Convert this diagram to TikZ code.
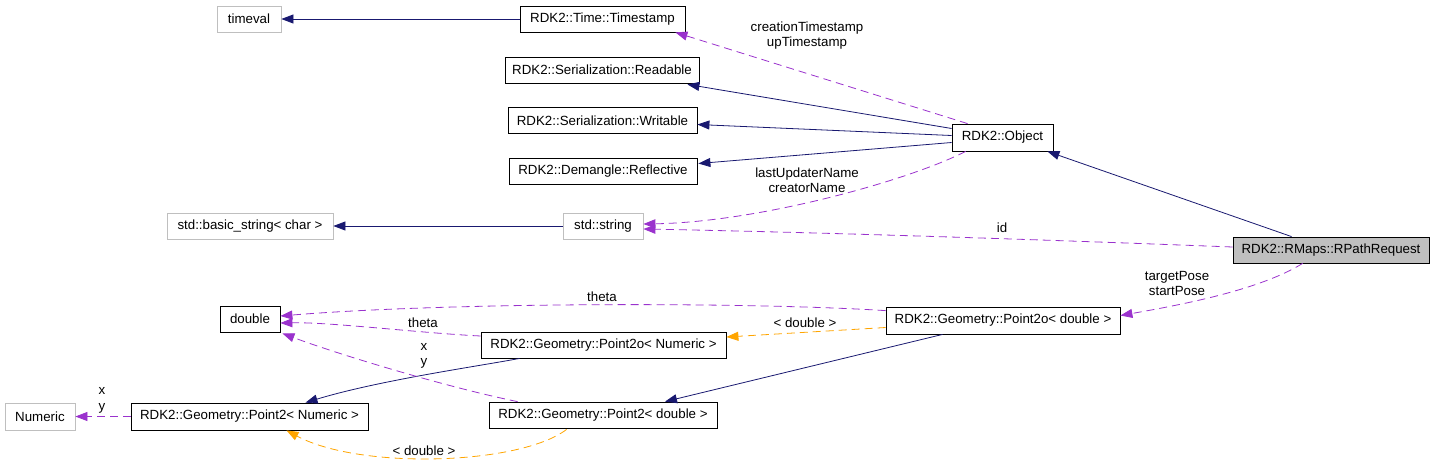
\documentclass[tikz,border=0pt]{standalone}
\usepackage{fontspec}
\setmainfont{Liberation Sans}
\usetikzlibrary{arrows.meta,calc}
\definecolor{navy}{HTML}{191970}
\definecolor{orchid}{HTML}{9A32CD}
\definecolor{orng}{HTML}{FFA500}
\definecolor{graybd}{HTML}{BFBFBF}
\begin{document}
\begin{tikzpicture}[x=1pt,y=-1pt,
  every node/.style={font=\fontsize{13.3}{15.5}\selectfont, inner sep=0pt, text=black},
  cls/.style={draw=black, line width=0.8pt, minimum height=26pt},
  ext/.style={draw=graybd, line width=0.8pt, minimum height=26pt},
  cur/.style={draw=black, fill=graybd, line width=0.8pt, minimum height=26pt},
  inh/.style={draw=navy, line width=0.8pt, -{Triangle[length=12pt,width=9pt]}},
  use/.style={draw=orchid, line width=0.8pt, dash pattern=on 8pt off 5pt, -{Triangle[length=12pt,width=9pt]}},
  tpl/.style={draw=orng, line width=0.8pt, dash pattern=on 8pt off 5pt, -{Triangle[length=12pt,width=9pt]}},
  lbl/.style={align=center},
]
\useasboundingbox (0,0) rectangle (1435,475);

% nodes
\node[ext, minimum width=64pt]  (timeval)    at (249,19)     {timeval};
\node[cls, minimum width=165pt] (ts)         at (602.5,19)   {RDK2::Time::Timestamp};
\node[cls, minimum width=194pt] (readable)   at (602,70)     {RDK2::Serialization::Readable};
\node[cls, minimum width=189pt] (writable)   at (602.5,120.5){RDK2::Serialization::Writable};
\node[cls, minimum width=188pt] (reflective) at (603,171.5)  {RDK2::Demangle::Reflective};
\node[cls, minimum width=101pt, minimum height=27pt] (object) at (1002.5,137.5) {RDK2::Object};
\node[ext, minimum width=166pt] (basicstr)   at (250,226)    {std::basic\_string< char >};
\node[ext, minimum width=80pt]  (stdstr)     at (603,226)    {std::string};
\node[cur, minimum width=196pt] (rpath)      at (1331,250)   {RDK2::RMaps::RPathRequest};
\node[cls, minimum width=60pt]  (double)     at (250,319)    {double};
\node[cls, minimum width=234pt, minimum height=27pt] (p2od) at (1003,320.5) {RDK2::Geometry::Point2o< double >};
\node[cls, minimum width=245pt] (p2on)       at (603.5,345)  {RDK2::Geometry::Point2o< Numeric >};
\node[ext, minimum width=70pt, minimum height=27pt] (numeric) at (40,416.5) {Numeric};
\node[cls, minimum width=237pt, minimum height=27pt] (p2n) at (249.5,416.5) {RDK2::Geometry::Point2< Numeric >};
\node[cls, minimum width=228pt] (p2d)        at (603,415)    {RDK2::Geometry::Point2< double >};

% edges
\draw[inh] (ts.west) -- (timeval.east);
\draw[inh] (stdstr.west) -- (basicstr.east);
\draw[use] ($(object.north west)+(16,0)$) -- ($(ts.south east)+(-10,0)$);
\draw[inh] ($(object.west)+(0,-9)$) -- ($(readable.south east)+(-12,1)$);
\draw[inh] ($(object.west)+(0,-2)$) -- ($(writable.east)+(0,4)$);
\draw[inh] ($(object.west)+(0,5)$) -- ($(reflective.east)+(1,-8)$);
\draw[use] ($(object.south west)+(14,0)$) .. controls (910,180) and (760,222) .. ($(stdstr.east)+(0,-2)$);
\draw[use] ($(rpath.west)+(0,-3)$) .. controls (1000,238) and (800,232) .. ($(stdstr.east)+(0,3)$);
\draw[inh] ($(rpath.north west)+(59,0)$) -- ($(object.south east)+(-6,0)$);
\draw[use] ($(rpath.south west)+(70,0)$) .. controls (1260,290) and (1180,305) .. ($(p2od.east)+(0,-5)$);
\draw[use] ($(p2od.north west)+(0,4)$) .. controls (750,302) and (450,302) .. ($(double.east)+(0,-3)$);
\draw[tpl] ($(p2od.west)+(0,7)$) -- ($(p2on.east)+(0,-8)$);
\draw[inh] ($(p2od.south west)+(57,0)$) -- ($(p2d.north)+(62,0)$);
\draw[use] ($(p2on.west)+(0,-9)$) .. controls (420,333) and (330,322) .. ($(double.east)+(0,4)$);
\draw[inh] ($(p2on.south west)+(39,0)$) .. controls (480,366) and (380,380) .. ($(p2n.north)+(56,0)$);
\draw[use] ($(p2d.north west)+(29,0)$) .. controls (450,388) and (340,355) .. ($(double.south east)+(2,1)$);
\draw[tpl] ($(p2d.south west)+(78,1)$) .. controls (520,465) and (360,470) .. ($(p2n.south)+(37,0)$);
\draw[use] (p2n.west) -- (numeric.east);

% labels
\node[lbl] (l1)  at (807,35.5)  {creationTimestamp\\upTimestamp};
\node[lbl] (l2)  at (807,180)   {lastUpdaterName\\creatorName};
\node      (l3)  at (1002,228)  {id};
\node[lbl] (l4)  at (1177,283.5){targetPose\\startPose};
\node      (l5)  at (602,297)   {theta};
\node      (l6)  at (805,323)   {< double >};
\node      (l7)  at (423,323)   {theta};
\node[lbl] (l8)  at (424,356)   {x\\y};
\node      (l9)  at (424,451)   {< double >};
\node[lbl] (l10) at (102,400.5) {x\\y};
\end{tikzpicture}
\end{document}
